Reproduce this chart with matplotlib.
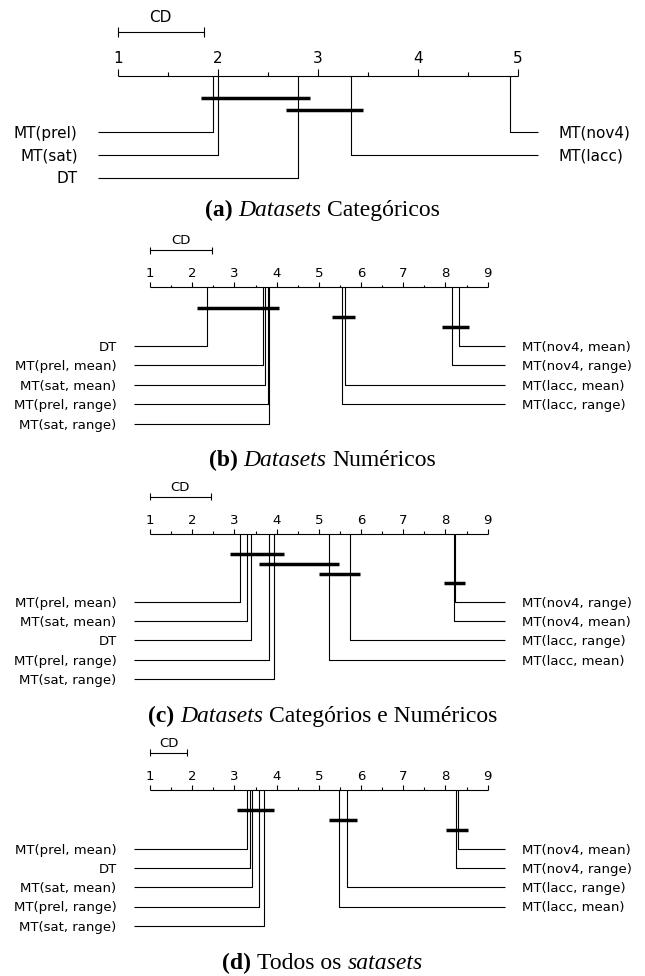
import math

import matplotlib
matplotlib.use("Agg")
import matplotlib.pyplot as plt
import numpy as np
from matplotlib.offsetbox import AnnotationBbox, HPacker, TextArea

W, H, DPI = 645, 976, 100

# (a) categorical datasets
A_NAMES = ["MT(prel)", "MT(sat)", "DT", "MT(lacc)", "MT(nov4)"]
A_RANKS = [1.95, 2.00, 2.80, 3.33, 4.92]
A_CD = 0.86
A_CLIQUES = [("MT(prel)", "DT"), ("DT", "MT(lacc)")]
A_CAPTION = [("(a)", "bold"), ("Datasets", "italic"), ("Categóricos", "normal")]

# (b) numerical datasets
B_NAMES = ["DT", "MT(prel, mean)", "MT(sat, mean)", "MT(prel, range)", "MT(sat, range)",
           "MT(lacc, range)", "MT(lacc, mean)", "MT(nov4, range)", "MT(nov4, mean)"]
B_RANKS = [2.36, 3.67, 3.72, 3.79, 3.82, 5.55, 5.61, 8.15, 8.32]
B_CD = 1.48
B_CLIQUES = [("DT", "MT(sat, range)"), ("MT(lacc, range)", "MT(lacc, mean)"),
             ("MT(nov4, range)", "MT(nov4, mean)")]
B_CAPTION = [("(b)", "bold"), ("Datasets", "italic"), ("Numéricos", "normal")]

# (c) categorical and numerical datasets
C_NAMES = ["MT(prel, mean)", "MT(sat, mean)", "DT", "MT(prel, range)", "MT(sat, range)",
           "MT(lacc, mean)", "MT(lacc, range)", "MT(nov4, mean)", "MT(nov4, range)"]
C_RANKS = [3.14, 3.31, 3.40, 3.81, 3.95, 5.24, 5.75, 8.21, 8.23]
C_CD = 1.44
C_CLIQUES = [("MT(prel, mean)", "MT(sat, range)"), ("MT(prel, range)", "MT(lacc, mean)"),
             ("MT(lacc, mean)", "MT(lacc, range)"), ("MT(nov4, mean)", "MT(nov4, range)")]
C_CAPTION = [("(c)", "bold"), ("Datasets", "italic"), ("Categórios e Numéricos", "normal")]

# (d) all datasets
D_NAMES = ["MT(prel, mean)", "DT", "MT(sat, mean)", "MT(prel, range)", "MT(sat, range)",
           "MT(lacc, mean)", "MT(lacc, range)", "MT(nov4, range)", "MT(nov4, mean)"]
D_RANKS = [3.29, 3.38, 3.41, 3.59, 3.69, 5.49, 5.66, 8.25, 8.30]
D_CD = 0.88
D_CLIQUES = [("MT(prel, mean)", "MT(sat, range)"), ("MT(lacc, mean)", "MT(lacc, range)"),
             ("MT(nov4, range)", "MT(nov4, mean)")]
D_CAPTION = [("(d)", "bold"), ("Todos os", "normal"), ("satasets", "italic")]


def small_layout(top, bottom, axis_y, row_y0, row_dy, caption_y):
    return dict(band=(top, bottom), x0=150, ppr=42.2, axis_y=axis_y,
                tick_y=axis_y - 14.5, cd_y=axis_y - 37, cd_text_y=axis_y - 48,
                bar_y0=axis_y + 20.5, bar_dy=9.6, row_y0=row_y0, row_dy=row_dy,
                left_end=133.6, right_end=505, gap=17, fs=9.5, major=5, minor=2.5,
                cap=3.5, ext=10, caption_y=caption_y)


LAYOUTS = [
    dict(band=(0, 225), x0=117.7, ppr=100, axis_y=76, tick_y=57, cd_y=31.7,
         cd_text_y=16, bar_y0=97.7, bar_dy=12.3, row_y0=132.3, row_dy=22.7,
         left_end=97.7, right_end=538.3, gap=20, fs=11, major=7, minor=4,
         cap=5, ext=12, caption_y=210),
    small_layout(225, 470, 287, 345.7, 19.5, 460),
    small_layout(470, 725, 534, 601.7, 19.4, 716.7),
    small_layout(725, 976, 790, 849.3, 19.1, 963),
]


def put_text(ax, x, y, s, fs, ha):
    # y is the visual centre of the capitals, converted to a baseline
    ax.text(x, y + 0.365 * fs * DPI / 72, s, ha=ha, va="baseline",
            fontsize=fs, family="DejaVu Sans", clip_on=False)


def draw_panel(fig, names, ranks, cd, cliques, caption, lay):
    top, bottom = lay["band"]
    x0, ppr = lay["x0"], lay["ppr"]
    ax = fig.add_axes([0, 1 - bottom / H, 1, (bottom - top) / H])
    ax.set_xlim(1 - x0 / ppr, 1 + (W - x0) / ppr)
    ax.set_ylim(bottom, top)
    ax.axis("off")

    def px(p):
        return 1 + (p - x0) / ppr

    k = len(names)
    fs = lay["fs"]
    thin = dict(color="black", lw=0.8, solid_capstyle="butt", clip_on=False)
    ay = lay["axis_y"]

    # rank axis
    ax.plot([1, k], [ay, ay], **thin)
    for t in np.arange(1, k + 0.01, 0.5):
        major = float(t).is_integer()
        ax.plot([t, t], [ay, ay - (lay["major"] if major else lay["minor"])], **thin)
        if major:
            put_text(ax, t, lay["tick_y"], str(int(t)), fs, "center")

    # critical difference
    cy = lay["cd_y"]
    ax.plot([1, 1 + cd], [cy, cy], **thin)
    for e in (1, 1 + cd):
        ax.plot([e, e], [cy - lay["cap"], cy + lay["cap"]], **thin)
    put_text(ax, 1 + cd / 2, lay["cd_text_y"], "CD", fs, "center")

    # methods
    half = math.ceil(k / 2)
    for i, (name, r) in enumerate(zip(names, ranks)):
        if i < half:
            y = lay["row_y0"] + i * lay["row_dy"]
            end = lay["left_end"]
            put_text(ax, px(end - lay["gap"]), y, name, fs, "right")
        else:
            y = lay["row_y0"] + (k - i - 1) * lay["row_dy"]
            end = lay["right_end"]
            put_text(ax, px(end + lay["gap"]), y, name, fs, "left")
        ax.plot([r, r, px(end)], [ay, y, y], **thin)

    # cliques of non-significant differences
    ext = lay["ext"] / ppr
    for j, (lo, hi) in enumerate(cliques):
        y = lay["bar_y0"] + j * lay["bar_dy"]
        r_lo = ranks[names.index(lo)]
        r_hi = ranks[names.index(hi)]
        ax.plot([r_lo - ext, r_hi + ext], [y, y], color="black", lw=2.5,
                solid_capstyle="butt", clip_on=False)

    # caption
    parts = []
    for text, style in caption:
        props = dict(family="Liberation Serif", fontsize=17)
        if style == "bold":
            props["fontweight"] = "bold"
        elif style == "italic":
            props["fontstyle"] = "italic"
        parts.append(TextArea(text, textprops=props))
    pack = HPacker(children=parts, align="baseline", pad=0, sep=4.2)
    box = AnnotationBbox(pack, (W / 2, H - lay["caption_y"]), xycoords="figure pixels",
                         frameon=False, box_alignment=(0.5, 0.5), pad=0)
    fig.add_artist(box)


def main():
    fig = plt.figure(figsize=(W / DPI, H / DPI), dpi=DPI)
    panels = [
        (A_NAMES, A_RANKS, A_CD, A_CLIQUES, A_CAPTION),
        (B_NAMES, B_RANKS, B_CD, B_CLIQUES, B_CAPTION),
        (C_NAMES, C_RANKS, C_CD, C_CLIQUES, C_CAPTION),
        (D_NAMES, D_RANKS, D_CD, D_CLIQUES, D_CAPTION),
    ]
    for data, lay in zip(panels, LAYOUTS):
        draw_panel(fig, *data, lay)
    fig.savefig("out.png", dpi=DPI)
    plt.close(fig)


if __name__ == "__main__":
    main()
